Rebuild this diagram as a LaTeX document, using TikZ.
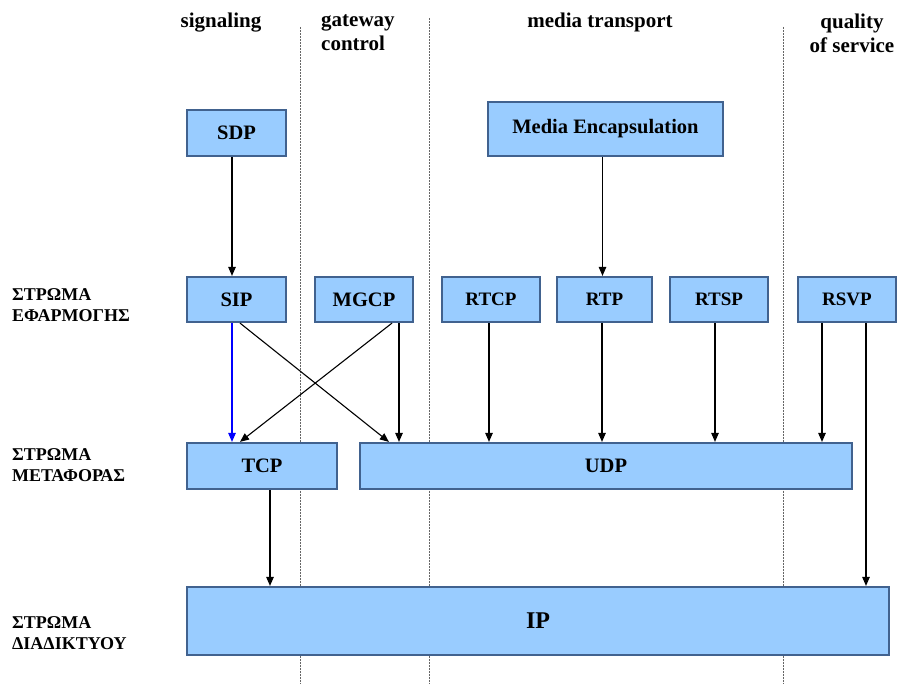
\documentclass[tikz,border=0pt]{standalone}
\usepackage{fontspec}
\setmainfont{Liberation Serif}
\usetikzlibrary{arrows.meta,calc}
\definecolor{boxfill}{HTML}{99CCFF}
\definecolor{boxedge}{HTML}{41628F}
\begin{document}
\begin{tikzpicture}[x=1pt,y=-1pt,
  box/.style={draw=boxedge,line width=2.2pt,fill=boxfill,font=\bfseries\fontsize{20.5}{22}\selectfont,inner sep=0pt},
  smallbox/.style={box,font=\bfseries\fontsize{19}{21}\selectfont},
  arr/.style={-{Triangle[length=9pt,width=7.5pt]},line width=1.1pt},
  head/.style={font=\bfseries\fontsize{21}{24}\selectfont,align=center,anchor=north,inner sep=0pt},
  layer/.style={font=\bfseries\fontsize{18}{21}\selectfont,align=left,anchor=north west,inner sep=0pt},
  sep/.style={densely dotted,line width=0.5pt,gray!80!black}]
\useasboundingbox (0,0) rectangle (897,684);

% column separators
\draw[sep] (300,27) -- (300,684);
\draw[sep] (429,18) -- (429,684);
\draw[sep] (783,27) -- (783,684);

% column headings
\node[head] (hsig) at (221,13) {signaling};
\node[head,align=left,anchor=north west] (hgw) at (321,14) {gateway\\control};
\node[head] (hmt) at (600,13) {media transport};
\node[head] (hqos) at (852,14) {quality\\of service};

% layer names
\node[layer] (lapp) at (12,288) {ΣΤΡΩΜΑ\\ΕΦΑΡΜΟΓΗΣ};
\node[layer] (ltr) at (12,448) {ΣΤΡΩΜΑ\\ΜΕΤΑΦΟΡΑΣ};
\node[layer] (lnet) at (12,616) {ΣΤΡΩΜΑ\\ΔΙΑΔΙΚΤΥΟΥ};

% protocol boxes
\node[box,minimum width=99pt,minimum height=46pt] (sdp) at (236.5,133) {SDP};
\node[box,minimum width=235pt,minimum height=54pt] (enc) at (605.5,129) {Media Encapsulation};
\node[box,minimum width=99pt,minimum height=45pt] (sip) at (236.5,299.5) {SIP};
\node[box,minimum width=98pt,minimum height=45pt] (mgcp) at (364,299.5) {MGCP};
\node[smallbox,minimum width=98pt,minimum height=45pt] (rtcp) at (491,299.5) {RTCP};
\node[smallbox,minimum width=95pt,minimum height=45pt] (rtp) at (604.5,299.5) {RTP};
\node[smallbox,minimum width=98pt,minimum height=45pt] (rtsp) at (719,299.5) {RTSP};
\node[smallbox,minimum width=98pt,minimum height=45pt] (rsvp) at (847,299.5) {RSVP};
\node[box,minimum width=150pt,minimum height=46pt] (tcp) at (262,466) {TCP};
\node[box,minimum width=492pt,minimum height=46pt] (udp) at (606,466) {UDP};
\node[box,minimum width=702pt,minimum height=68pt,font=\bfseries\fontsize{24}{26}\selectfont] (ip) at (538,621) {IP};

% connectors
\draw[arr] ([xshift=-4.5pt]sdp.south) -- ([xshift=-4.5pt]sip.north);
\draw[arr] ([xshift=-3pt]enc.south) -- ([xshift=-3pt]enc.south |- rtp.north);
\draw[arr,blue] ([xshift=-4.5pt]sip.south) -- ([xshift=-4.5pt]sip.south |- tcp.north);
\draw[arr] ([xshift=3.5pt]sip.south) -- ([xshift=30pt]udp.north west);
\draw[arr] ([xshift=28pt]mgcp.south) -- ([xshift=-22pt]tcp.north);
\draw[arr] ([xshift=35pt]mgcp.south) -- ([xshift=35pt]mgcp.south |- udp.north);
\draw[arr] ([xshift=-2pt]rtcp.south) -- ([xshift=-2pt]rtcp.south |- udp.north);
\draw[arr] ([xshift=-2.5pt]rtp.south) -- ([xshift=-2.5pt]rtp.south |- udp.north);
\draw[arr] ([xshift=-4pt]rtsp.south) -- ([xshift=-4pt]rtsp.south |- udp.north);
\draw[arr] ([xshift=-25pt]rsvp.south) -- ([xshift=-25pt]rsvp.south |- udp.north);
\draw[arr] ([xshift=19pt]rsvp.south) -- ([xshift=19pt]rsvp.south |- ip.north);
\draw[arr] ([xshift=8pt]tcp.south) -- ([xshift=8pt]tcp.south |- ip.north);
\end{tikzpicture}
\end{document}
